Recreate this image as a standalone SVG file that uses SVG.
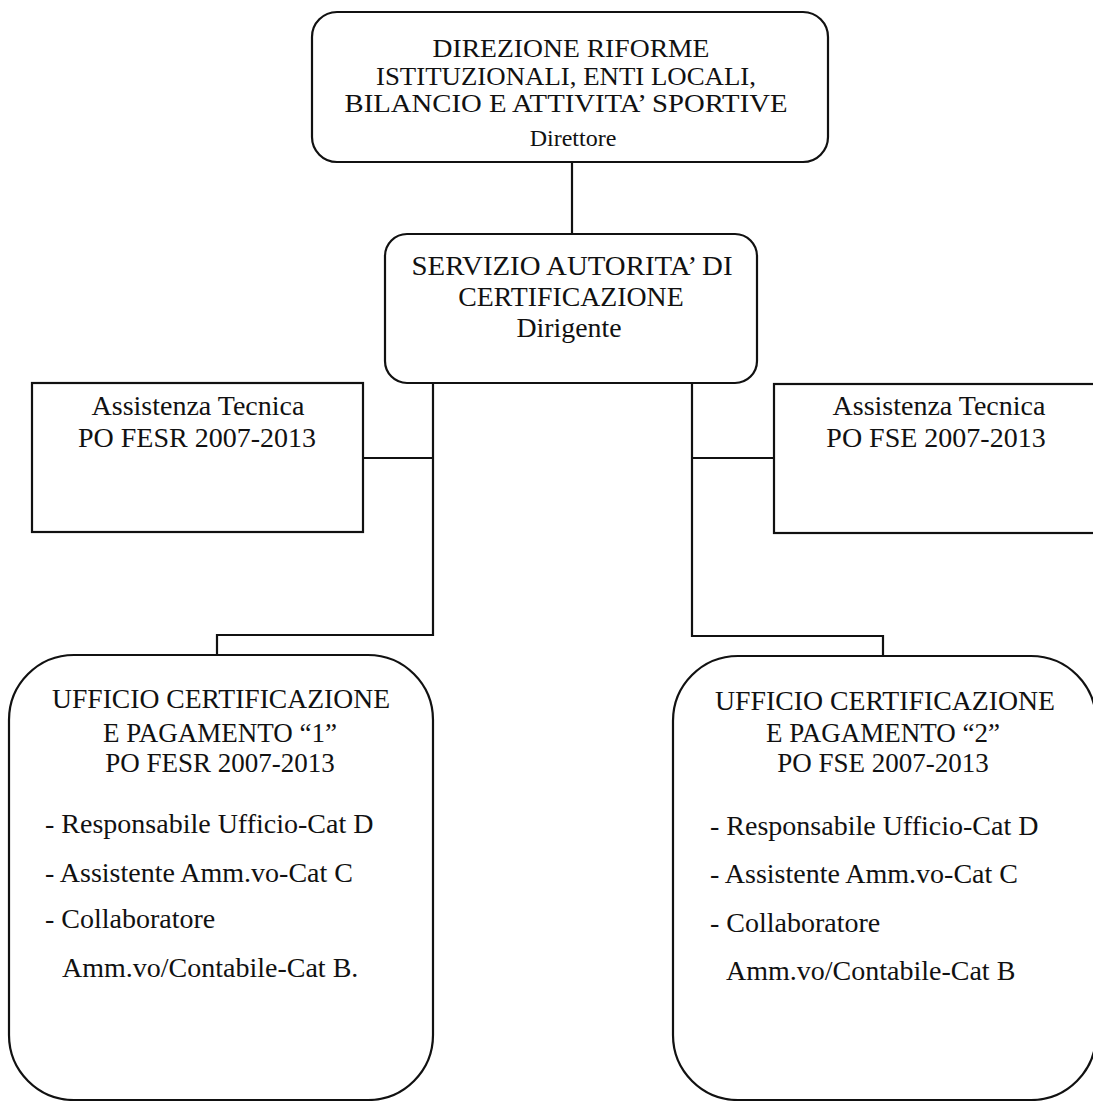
<svg xmlns="http://www.w3.org/2000/svg" width="1093" height="1101" viewBox="0 0 1093 1101">
<style>
.box{fill:#fff;stroke:#111;stroke-width:2.2}
.ln{fill:none;stroke:#111;stroke-width:2.2}
text{font-family:"Liberation Serif","Times New Roman",serif;fill:#111;font-size:28px}
.c{text-anchor:middle}
.t{font-size:24.5px}
.s{font-size:24px}
.u{font-size:27px}
.v{font-size:27.8px}
</style>
<rect width="1093" height="1101" fill="#fff"/>
<g id="connectors">
<path class="ln" d="M572 162V234"/>
<path class="ln" d="M433 383V635H217V656"/>
<path class="ln" d="M363 458H433"/>
<path class="ln" d="M692 383V636H883V656"/>
<path class="ln" d="M692 458H774"/>
</g>
<g id="direzione">
<rect class="box" x="312" y="12" width="516" height="150" rx="25"/>
<text class="c t" x="571" y="57" textLength="277" lengthAdjust="spacingAndGlyphs">DIREZIONE RIFORME</text>
<text class="c t" x="566" y="84.5" textLength="380" lengthAdjust="spacingAndGlyphs">ISTITUZIONALI, ENTI LOCALI,</text>
<text class="c t" x="566" y="112" textLength="443" lengthAdjust="spacingAndGlyphs">BILANCIO E ATTIVITA’ SPORTIVE</text>
<text class="c s" x="573" y="146">Direttore</text>
</g>
<g id="servizio">
<rect class="box" x="385" y="234" width="372" height="149" rx="22"/>
<text class="c v" x="572" y="275" textLength="321" lengthAdjust="spacingAndGlyphs">SERVIZIO AUTORITA’ DI</text>
<text class="c v" x="571" y="306">CERTIFICAZIONE</text>
<text class="c v" x="569" y="337">Dirigente</text>
</g>
<g id="assistenza-fesr">
<rect class="box" x="32" y="383" width="331" height="149"/>
<text class="c" x="198" y="415">Assistenza Tecnica</text>
<text class="c" x="197" y="447">PO FESR 2007-2013</text>
</g>
<g id="assistenza-fse">
<rect class="box" x="774" y="384" width="330" height="149"/>
<text class="c" x="939" y="415">Assistenza Tecnica</text>
<text class="c" x="936" y="447">PO FSE 2007-2013</text>
</g>
<g id="ufficio-1">
<rect class="box" x="9" y="655" width="424" height="445" rx="65"/>
<text class="c u" x="221" y="708" textLength="338" lengthAdjust="spacingAndGlyphs">UFFICIO CERTIFICAZIONE</text>
<text class="c u" x="220" y="742">E PAGAMENTO “1”</text>
<text class="c u" x="220" y="772">PO FESR 2007-2013</text>
<text x="45" y="833">- Responsabile Ufficio-Cat D</text>
<text x="45" y="882">- Assistente Amm.vo-Cat C</text>
<text x="45" y="928">- Collaboratore</text>
<text x="62" y="977">Amm.vo/Contabile-Cat B.</text>
</g>
<g id="ufficio-2">
<rect class="box" x="673" y="656" width="423" height="444" rx="65"/>
<text class="c u" x="885" y="710" textLength="340" lengthAdjust="spacingAndGlyphs">UFFICIO CERTIFICAZIONE</text>
<text class="c u" x="883" y="742">E PAGAMENTO “2”</text>
<text class="c u" x="883" y="772">PO FSE 2007-2013</text>
<text x="710" y="835">- Responsabile Ufficio-Cat D</text>
<text x="710" y="883">- Assistente Amm.vo-Cat C</text>
<text x="710" y="932">- Collaboratore</text>
<text x="726" y="980">Amm.vo/Contabile-Cat B</text>
</g>
</svg>
